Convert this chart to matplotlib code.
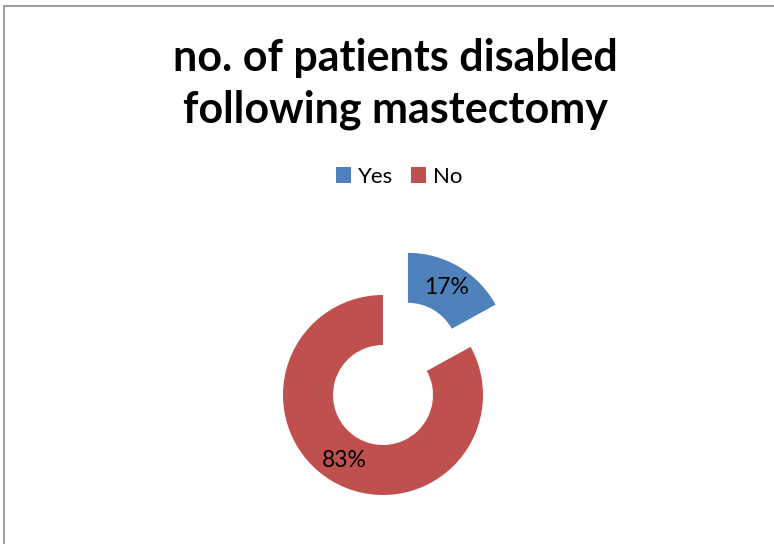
import matplotlib.pyplot as plt
from matplotlib.patches import Rectangle

labels = ["Yes", "No"]
values = [17, 83]
colors = ["#4F81BD", "#C0504D"]
title = "no. of patients disabled\nfollowing mastectomy"

plt.rcParams["font.family"] = ["Lato", "DejaVu Sans"]

fig = plt.figure(figsize=(7.74, 5.44), dpi=100)
ax = fig.add_axes([0, 0, 1, 1])

# frame of the chart area (only top and left visible)
fig.patches.append(Rectangle((4 / 774, -0.1), 1.2, (544 - 6) / 544 + 0.1,
                             transform=fig.transFigure, fill=False,
                             edgecolor="#8c8c8c", linewidth=1.2))

wedges, texts, autotexts = ax.pie(values, colors=colors, startangle=90,
                                  counterclock=False, radius=1.0,
                                  center=(3.83, 1.49), explode=[0.49, 0],
                                  wedgeprops=dict(width=0.5, linewidth=0),
                                  autopct="%1.0f%%", pctdistance=0.76,
                                  textprops=dict(fontsize=16.5, color="black"),
                                  frame=True)
ax.set_xlim(0, 7.74)
ax.set_ylim(0, 5.44)
ax.set_aspect("equal")
ax.axis("off")

fig.text(395 / 774, 1 - 84 / 544, title, ha="center", va="center",
         fontsize=31, fontweight="bold", linespacing=1.32)

fig.legend(wedges, labels, loc="center", bbox_to_anchor=(399 / 774, 1 - 177 / 544),
           ncol=2, frameon=False, fontsize=16, handlelength=0.7,
           handleheight=0.7, handletextpad=0.3, columnspacing=0.8)

fig.savefig("out.png", dpi=100)
